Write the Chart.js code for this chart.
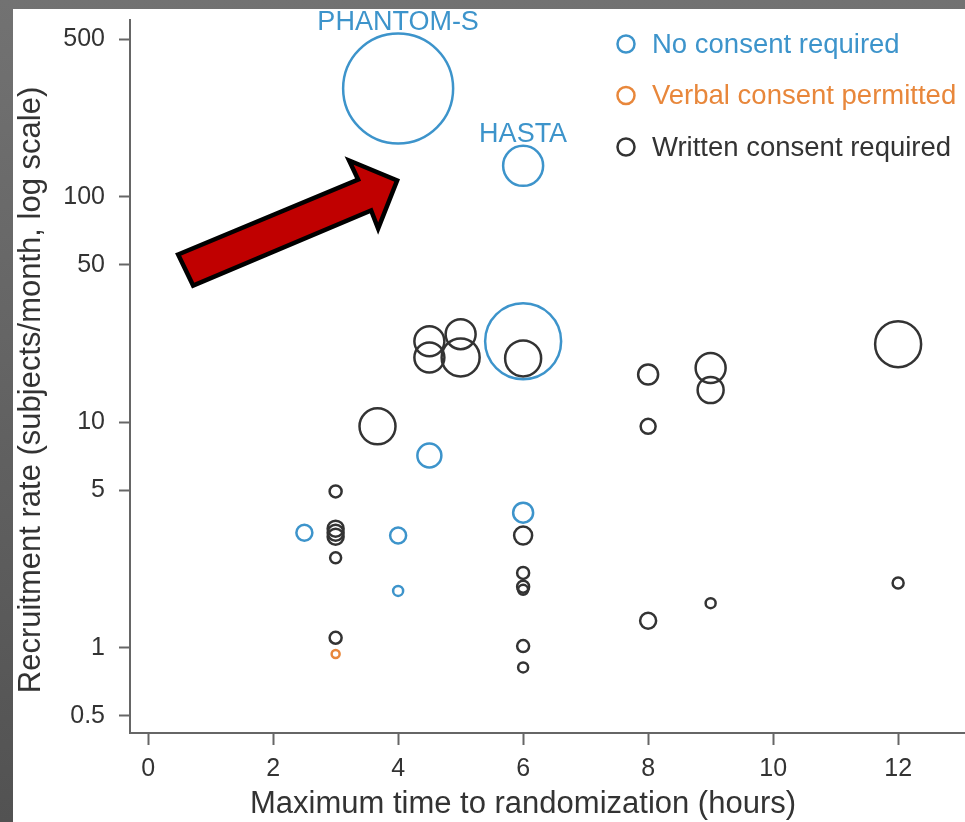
<!DOCTYPE html>
<html>
<head>
<meta charset="utf-8">
<script src="https://cdn.jsdelivr.net/npm/chart.js@4.4.0/dist/chart.umd.min.js"></script>
<style>
  html, body { margin: 0; padding: 0; }
  body { width: 965px; height: 822px; position: relative; overflow: hidden; background: linear-gradient(#727272, #525252); }
  #panel { position: absolute; left: 13px; top: 9px; width: 952px; height: 813px; background: #fff; }
</style>
</head>
<body>
<div id="panel"><canvas id="myChart" width="952" height="813"></canvas></div>
<script>
// series names (legend)
const seriesNames = ["No consent required", "Verbal consent permitted", "Written consent required"];

// No consent required
const noX = [4, 6, 6, 4.5, 6, 2.5, 4, 4];
const noY = [302, 137, 22.9, 7.13, 3.98, 3.24, 3.15, 1.79];
const noR = [55, 20, 38, 12, 10, 8, 8, 5];

// Verbal consent permitted
const verbalX = [3];
const verbalY = [0.94];
const verbalR = [4];

// Written consent required
const writtenX = [4.5, 4.5, 5, 5, 6, 3.67, 8, 8, 9, 9, 12, 3, 3, 3, 3, 3, 3, 6, 6, 6, 6, 6, 6, 8, 9, 12];
const writtenY = [22.9, 19.4, 24.6, 19.4, 19.2, 9.6, 16.3, 9.6, 17.4, 13.9, 22.2, 4.94, 3.38, 3.24, 3.11, 2.51, 1.11, 3.15, 2.15, 1.87, 1.81, 1.02, 0.82, 1.32, 1.58, 1.94];
const writtenR = [15, 15, 15, 19, 18, 18, 10, 7.5, 15, 13, 23, 6, 8, 8, 8, 5.5, 6, 9, 6, 6, 5, 6, 5, 8, 5, 5.5];

// named trials (index into noX/noY)
const trialNames = ["PHANTOM-S", "HASTA"];
const trialIdx = [0, 1];

const xTicks = [0, 2, 4, 6, 8, 10, 12];
const yTicks = [0.5, 1, 5, 10, 50, 100, 500];
const xTitle = 'Maximum time to randomization (hours)';
const yTitle = 'Recruitment rate (subjects/month, log scale)';

const colors = ["#3d94cb", "#e8873b", "#333333"];
const fontFam = '"Liberation Sans", Arial, sans-serif';

function toPoints(xs, ys, rs) {
  return xs.map((x, i) => ({x: x, y: ys[i], r: rs[i]}));
}

// arrow shape, offsets in px from the tip
const arrowTip = [4, 118];
const arrowShape = [[-219, 74], [-39, -1], [-48, -20], [0, 0], [-19, 48], [-26, 30], [-204, 105]];

const extras = {
  id: 'extras',
  afterDatasetsDraw(chart) {
    const ctx = chart.ctx;
    const xs = chart.scales.x, ys = chart.scales.y;
    ctx.save();
    // trial labels
    ctx.font = '27px ' + fontFam;
    ctx.fillStyle = colors[0];
    ctx.textAlign = 'center';
    ctx.textBaseline = 'middle';
    trialIdx.forEach((k, i) => {
      const px = xs.getPixelForValue(noX[k]);
      const py = ys.getPixelForValue(noY[k]);
      ctx.fillText(trialNames[i], px, py - noR[k] - 11);
    });
    // red arrow
    const tx = xs.getPixelForValue(arrowTip[0]) - 1;
    const ty = ys.getPixelForValue(arrowTip[1]);
    ctx.beginPath();
    arrowShape.forEach((p, i) => {
      if (i === 0) ctx.moveTo(tx + p[0], ty + p[1]);
      else ctx.lineTo(tx + p[0], ty + p[1]);
    });
    ctx.closePath();
    ctx.fillStyle = '#c00000';
    ctx.fill();
    ctx.lineWidth = 4.5;
    ctx.lineJoin = 'miter';
    ctx.strokeStyle = '#000';
    ctx.stroke();
    // legend
    ctx.textAlign = 'left';
    ctx.font = '27.5px ' + fontFam;
    seriesNames.forEach((name, i) => {
      const y = 35 + i * 51.5;
      ctx.beginPath();
      ctx.arc(613, y, 8.5, 0, Math.PI * 2);
      ctx.lineWidth = 2.5;
      ctx.strokeStyle = colors[i];
      ctx.stroke();
      ctx.fillStyle = colors[i];
      ctx.fillText(name, 639, y + 1);
    });
    // axis titles
    ctx.fillStyle = '#333';
    ctx.textAlign = 'center';
    ctx.font = '31px ' + fontFam;
    ctx.fillText(xTitle, 510, 795);
    ctx.translate(18, 381);
    ctx.rotate(-Math.PI / 2);
    ctx.fillText(yTitle, 0, 0);
    ctx.restore();
  }
};

const myChart = new Chart("myChart", {
  type: 'bubble',
  data: {
    datasets: [
      {label: seriesNames[0], data: toPoints(noX, noY, noR), borderColor: colors[0]},
      {label: seriesNames[1], data: toPoints(verbalX, verbalY, verbalR), borderColor: colors[1]},
      {label: seriesNames[2], data: toPoints(writtenX, writtenY, writtenR), borderColor: colors[2]}
    ]
  },
  options: {
    responsive: false,
    animation: false,
    devicePixelRatio: 1,
    layout: {autoPadding: false, padding: {top: 11, right: 0, bottom: 0, left: 0}},
    elements: {point: {backgroundColor: 'rgba(0,0,0,0)', borderWidth: 2.5, hoverRadius: 0}},
    clip: false,
    plugins: {legend: {display: false}, tooltip: {enabled: false}},
    scales: {
      x: {
        type: 'linear',
        min: -0.29,
        max: 13.07,
        afterBuildTicks: s => { s.ticks = xTicks.map(v => ({value: v})); },
        afterFit: s => { s.height = 89; s.paddingLeft = 0; s.paddingRight = 0; },
        grid: {drawOnChartArea: false, tickLength: 12, color: '#666', tickWidth: 2},
        border: {color: '#666', width: 2},
        ticks: {font: {size: 25, family: fontFam}, color: '#333', padding: 9, autoSkip: false, maxRotation: 0}
      },
      y: {
        type: 'logarithmic',
        min: 0.42,
        max: 607,
        afterBuildTicks: s => { s.ticks = yTicks.map(v => ({value: v})); },
        afterFit: s => { s.width = 117; s.paddingTop = 0; s.paddingBottom = 0; },
        grid: {drawOnChartArea: false, tickLength: 11, color: '#666', tickWidth: 2},
        border: {color: '#666', width: 2},
        ticks: {font: {size: 25, family: fontFam}, color: '#333', padding: 14, autoSkip: false, callback: v => String(v)}
      }
    }
  },
  plugins: [extras]
});
</script>
</body>
</html>
